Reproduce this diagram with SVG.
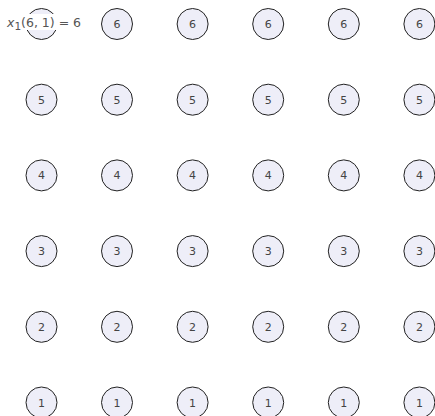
<svg xmlns="http://www.w3.org/2000/svg" width="435" height="416" viewBox="0 0 435 416">
<style>
.n circle{fill:#eeeef8;stroke:#222;stroke-width:1}
.n text{font-family:"DejaVu Sans",sans-serif;font-size:11px;fill:#444;text-anchor:middle}
.lbl{font-family:"DejaVu Sans",sans-serif;font-size:12.5px;fill:#555}
</style>
<rect width="435" height="416" fill="#fff"/>
<g id="nodes">
<g id="n6_1" class="n"><circle cx="41.5" cy="24" r="15.5"/></g>
<g id="n6_2" class="n"><circle cx="117" cy="24" r="15.5"/><text x="117" y="28">6</text></g>
<g id="n6_3" class="n"><circle cx="192.6" cy="24" r="15.5"/><text x="192.6" y="28">6</text></g>
<g id="n6_4" class="n"><circle cx="268.2" cy="24" r="15.5"/><text x="268.2" y="28">6</text></g>
<g id="n6_5" class="n"><circle cx="343.8" cy="24" r="15.5"/><text x="343.8" y="28">6</text></g>
<g id="n6_6" class="n"><circle cx="419.4" cy="24" r="15.5"/><text x="419.4" y="28">6</text></g>

<g id="n5_1" class="n"><circle cx="41.5" cy="99.7" r="15.5"/><text x="41.5" y="103.7">5</text></g>
<g id="n5_2" class="n"><circle cx="117" cy="99.7" r="15.5"/><text x="117" y="103.7">5</text></g>
<g id="n5_3" class="n"><circle cx="192.6" cy="99.7" r="15.5"/><text x="192.6" y="103.7">5</text></g>
<g id="n5_4" class="n"><circle cx="268.2" cy="99.7" r="15.5"/><text x="268.2" y="103.7">5</text></g>
<g id="n5_5" class="n"><circle cx="343.8" cy="99.7" r="15.5"/><text x="343.8" y="103.7">5</text></g>
<g id="n5_6" class="n"><circle cx="419.4" cy="99.7" r="15.5"/><text x="419.4" y="103.7">5</text></g>

<g id="n4_1" class="n"><circle cx="41.5" cy="175.4" r="15.5"/><text x="41.5" y="179.4">4</text></g>
<g id="n4_2" class="n"><circle cx="117" cy="175.4" r="15.5"/><text x="117" y="179.4">4</text></g>
<g id="n4_3" class="n"><circle cx="192.6" cy="175.4" r="15.5"/><text x="192.6" y="179.4">4</text></g>
<g id="n4_4" class="n"><circle cx="268.2" cy="175.4" r="15.5"/><text x="268.2" y="179.4">4</text></g>
<g id="n4_5" class="n"><circle cx="343.8" cy="175.4" r="15.5"/><text x="343.8" y="179.4">4</text></g>
<g id="n4_6" class="n"><circle cx="419.4" cy="175.4" r="15.5"/><text x="419.4" y="179.4">4</text></g>

<g id="n3_1" class="n"><circle cx="41.5" cy="251.1" r="15.5"/><text x="41.5" y="255.1">3</text></g>
<g id="n3_2" class="n"><circle cx="117" cy="251.1" r="15.5"/><text x="117" y="255.1">3</text></g>
<g id="n3_3" class="n"><circle cx="192.6" cy="251.1" r="15.5"/><text x="192.6" y="255.1">3</text></g>
<g id="n3_4" class="n"><circle cx="268.2" cy="251.1" r="15.5"/><text x="268.2" y="255.1">3</text></g>
<g id="n3_5" class="n"><circle cx="343.8" cy="251.1" r="15.5"/><text x="343.8" y="255.1">3</text></g>
<g id="n3_6" class="n"><circle cx="419.4" cy="251.1" r="15.5"/><text x="419.4" y="255.1">3</text></g>

<g id="n2_1" class="n"><circle cx="41.5" cy="326.8" r="15.5"/><text x="41.5" y="330.8">2</text></g>
<g id="n2_2" class="n"><circle cx="117" cy="326.8" r="15.5"/><text x="117" y="330.8">2</text></g>
<g id="n2_3" class="n"><circle cx="192.6" cy="326.8" r="15.5"/><text x="192.6" y="330.8">2</text></g>
<g id="n2_4" class="n"><circle cx="268.2" cy="326.8" r="15.5"/><text x="268.2" y="330.8">2</text></g>
<g id="n2_5" class="n"><circle cx="343.8" cy="326.8" r="15.5"/><text x="343.8" y="330.8">2</text></g>
<g id="n2_6" class="n"><circle cx="419.4" cy="326.8" r="15.5"/><text x="419.4" y="330.8">2</text></g>

<g id="n1_1" class="n"><circle cx="41.5" cy="402.5" r="15.5"/><text x="41.5" y="406.5">1</text></g>
<g id="n1_2" class="n"><circle cx="117" cy="402.5" r="15.5"/><text x="117" y="406.5">1</text></g>
<g id="n1_3" class="n"><circle cx="192.6" cy="402.5" r="15.5"/><text x="192.6" y="406.5">1</text></g>
<g id="n1_4" class="n"><circle cx="268.2" cy="402.5" r="15.5"/><text x="268.2" y="406.5">1</text></g>
<g id="n1_5" class="n"><circle cx="343.8" cy="402.5" r="15.5"/><text x="343.8" y="406.5">1</text></g>
<g id="n1_6" class="n"><circle cx="419.4" cy="402.5" r="15.5"/><text x="419.4" y="406.5">1</text></g>
</g>
<g id="label">
<rect x="5" y="14" width="78" height="16" fill="#fff"/>
<text class="lbl" x="7" y="26.5"><tspan font-style="italic">x</tspan><tspan dy="3" font-size="10.5px">1</tspan><tspan dy="-3">(6, 1) = 6</tspan></text>
</g>
<g id="connectors"/>
</svg>
